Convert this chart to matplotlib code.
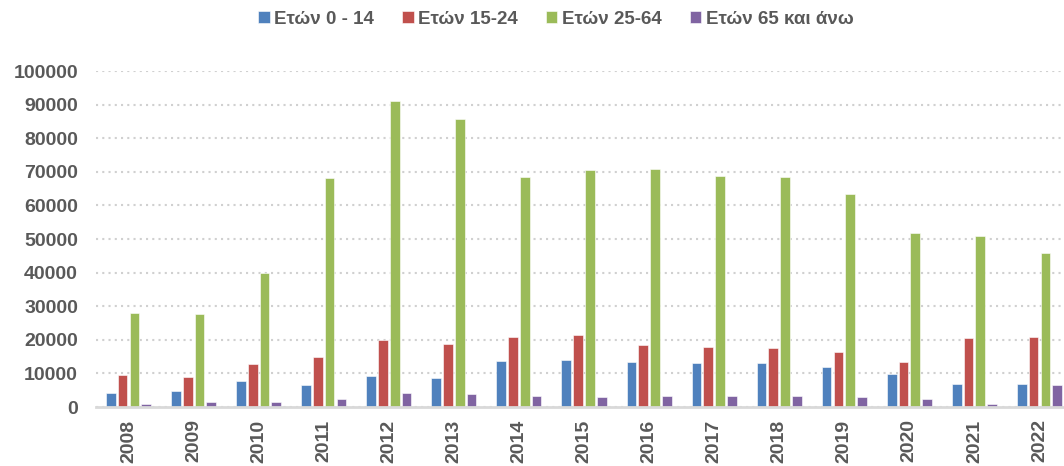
import matplotlib
matplotlib.use("Agg")
import matplotlib.pyplot as plt
import numpy as np

# Data.
years = ["2008", "2009", "2010", "2011", "2012", "2013", "2014", "2015",
         "2016", "2017", "2018", "2019", "2020", "2021", "2022"]
age_0_14 = [4100, 4900, 7600, 6400, 9200, 8500, 13800, 14000,
            13400, 13100, 13000, 12000, 9900, 6800, 6800]
age_15_24 = [9400, 9000, 12700, 15000, 19900, 18700, 20700, 21300,
             18500, 17800, 17700, 16400, 13300, 20600, 20800]
age_25_64 = [28100, 27800, 39900, 68100, 91100, 85700, 68500, 70500,
             70900, 68800, 68600, 63300, 51900, 51000, 45700]
age_65_plus = [900, 1400, 1600, 2500, 4100, 3800, 3200, 3100,
               3300, 3200, 3200, 2900, 2400, 800, 6500]
labels = ["Ετών 0 - 14", "Ετών 15-24", "Ετών 25-64", "Ετών 65 και άνω"]
colors = ["#4F81BD", "#C0504D", "#9BBB59", "#8064A2"]

plt.rcParams['font.family'] = ['Liberation Sans', 'DejaVu Sans']

fig = plt.figure(figsize=(10.64, 4.66), dpi=100)
W, H = 1064.0, 466.0
ax = fig.add_axes([96 / W, (H - 407) / H, 976 / W, (407 - 71) / H])

x = np.arange(len(years))
step = 0.181
width = 0.149
series = [age_0_14, age_15_24, age_25_64, age_65_plus]
for i, vals in enumerate(series):
	ax.bar(x + (i - 1.5) * step, vals, width, color=colors[i], label=labels[i],
	       edgecolor="white", linewidth=0.4, zorder=3)

ax.set_xlim(-0.5, len(years) - 0.5)
ax.set_ylim(0, 100000)
ax.set_yticks(np.arange(0, 100001, 10000))
ax.yaxis.grid(True, linestyle=(0, (1, 2)), color="#D0D0D0", linewidth=1.5, zorder=0)
ax.set_axisbelow(True)

for s in ["top", "right", "left"]:
	ax.spines[s].set_visible(False)
ax.spines["bottom"].set_color("#D9D9D9")
ax.spines["bottom"].set_linewidth(2)
ax.spines["bottom"].set_zorder(4)

ax.set_xticks(x)
ax.set_xticklabels(years, rotation=90)
ax.tick_params(axis="both", length=0, labelsize=14, labelcolor="#595959")
ax.tick_params(axis="y", pad=13)
ax.tick_params(axis="x", pad=9)
for t in ax.get_xticklabels() + ax.get_yticklabels():
	t.set_fontweight("bold")

fig.legend(loc="center", bbox_to_anchor=(556 / W, 1 - 19 / H), ncol=4,
           frameon=False, handlelength=0.6, handleheight=0.6,
           handletextpad=0.25, columnspacing=1.5,
           prop={"size": 13.5, "weight": "bold"}, labelcolor="#595959")

plt.savefig("out.png", dpi=100)
